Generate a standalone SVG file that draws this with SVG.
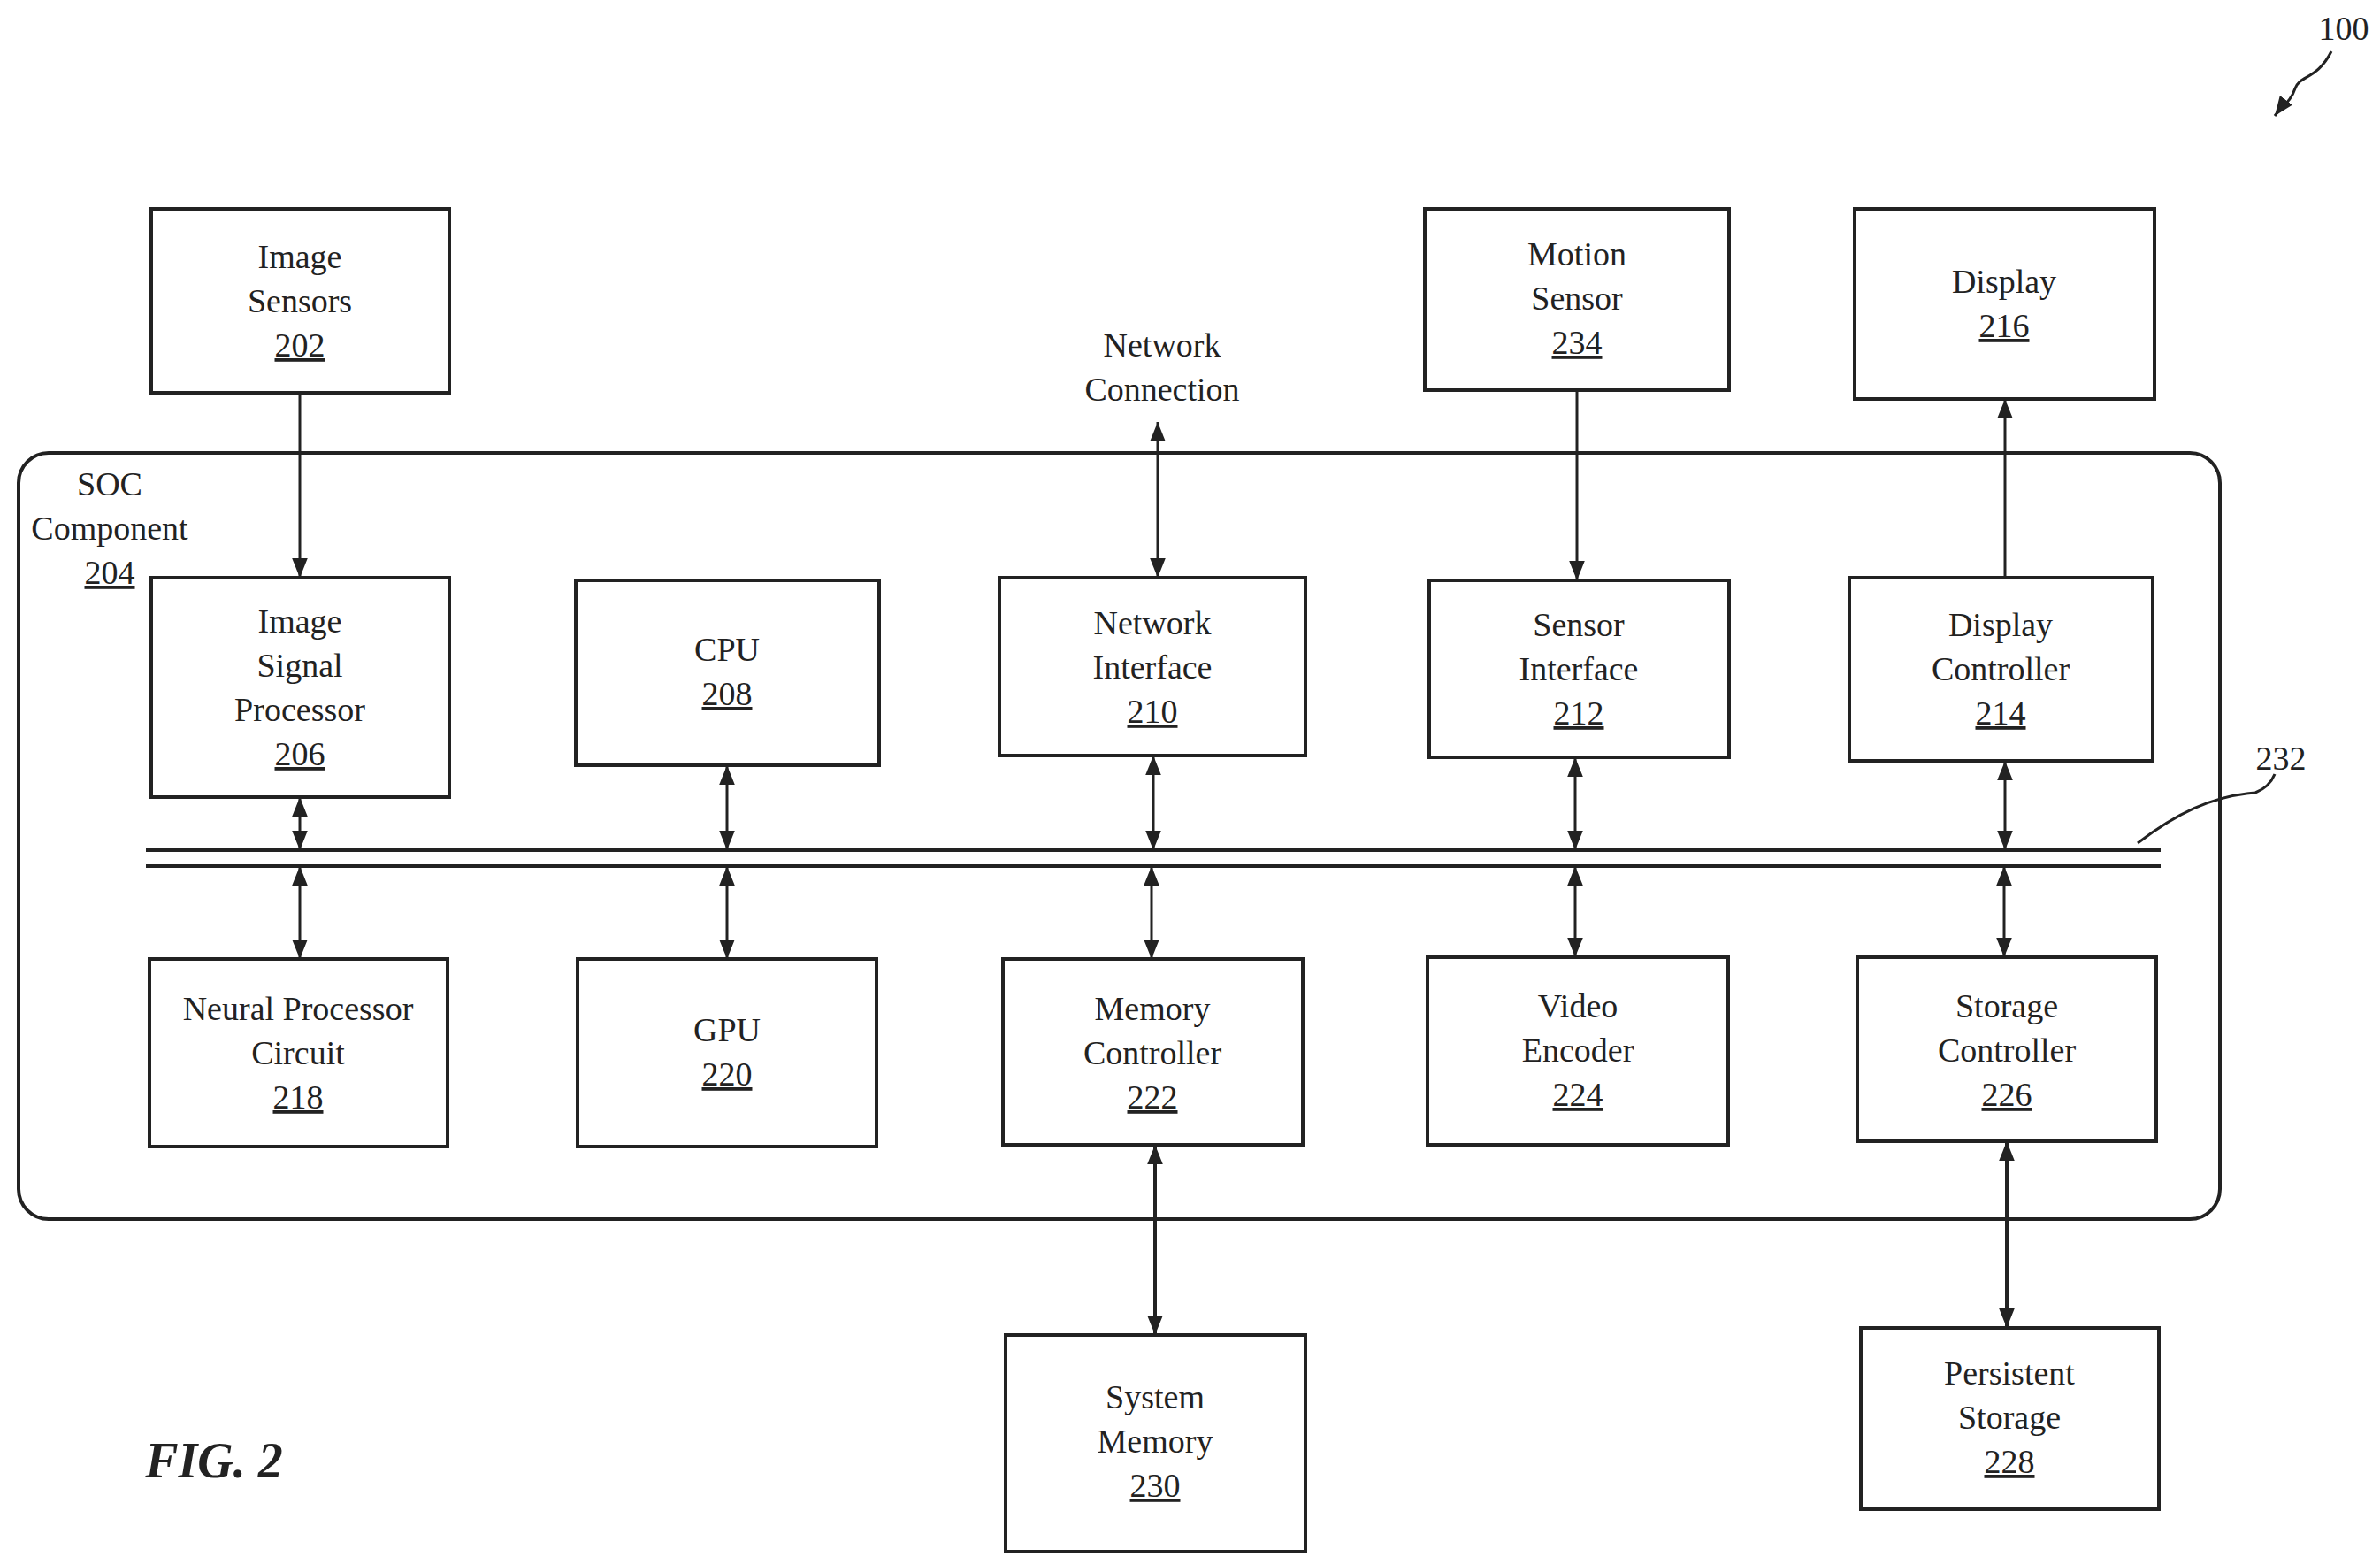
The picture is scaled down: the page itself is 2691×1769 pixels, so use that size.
<svg xmlns="http://www.w3.org/2000/svg" width="2691" height="1769" viewBox="0 0 2691 1769">
<style>
.b{fill:none;stroke:#222;stroke-width:4}
.c{fill:none;stroke:#222;stroke-width:3}
text{font-family:"Liberation Serif",serif;font-size:38px;fill:#222;text-anchor:middle}
.u{text-decoration:underline}
</style>
<defs>
<marker id="m" viewBox="0 0 10 10" refX="10" refY="5" markerWidth="22" markerHeight="22" orient="auto-start-reverse" markerUnits="userSpaceOnUse"><path d="M0,1 L10,5 L0,9 z" fill="#222"/></marker>
</defs>
<rect width="2691" height="1769" fill="#fff"/>
<rect class="b" x="21" y="512" width="2489" height="866" rx="34"/>
<g id="soc"><text x="124" y="560">SOC</text><text x="124" y="610">Component</text><text x="124" y="660" class="u">204</text></g>
<g id="n202"><rect class="b" x="171" y="236" width="337" height="208"/><text x="339" y="303">Image</text><text x="339" y="353">Sensors</text><text x="339" y="403" class="u">202</text></g>
<g id="n206"><rect class="b" x="171" y="653" width="337" height="248"/><text x="339" y="715">Image</text><text x="339" y="765">Signal</text><text x="339" y="815">Processor</text><text x="339" y="865" class="u">206</text></g>
<g id="n208"><rect class="b" x="651" y="656" width="343" height="209"/><text x="822" y="747">CPU</text><text x="822" y="797" class="u">208</text></g>
<g id="n210"><rect class="b" x="1130" y="653" width="346" height="201"/><text x="1303" y="717">Network</text><text x="1303" y="767">Interface</text><text x="1303" y="817" class="u">210</text></g>
<g id="n212"><rect class="b" x="1616" y="656" width="339" height="200"/><text x="1785" y="719">Sensor</text><text x="1785" y="769">Interface</text><text x="1785" y="819" class="u">212</text></g>
<g id="n214"><rect class="b" x="2091" y="653" width="343" height="207"/><text x="2262" y="719">Display</text><text x="2262" y="769">Controller</text><text x="2262" y="819" class="u">214</text></g>
<g id="n234"><rect class="b" x="1611" y="236" width="344" height="205"/><text x="1783" y="300">Motion</text><text x="1783" y="350">Sensor</text><text x="1783" y="400" class="u">234</text></g>
<g id="n216"><rect class="b" x="2097" y="236" width="339" height="215"/><text x="2266" y="331">Display</text><text x="2266" y="381" class="u">216</text></g>
<g id="n218"><rect class="b" x="169" y="1084" width="337" height="212"/><text x="337" y="1153">Neural Processor</text><text x="337" y="1203">Circuit</text><text x="337" y="1253" class="u">218</text></g>
<g id="n220"><rect class="b" x="653" y="1084" width="338" height="212"/><text x="822" y="1177">GPU</text><text x="822" y="1227" class="u">220</text></g>
<g id="n222"><rect class="b" x="1134" y="1084" width="339" height="210"/><text x="1303" y="1153">Memory</text><text x="1303" y="1203">Controller</text><text x="1303" y="1253" class="u">222</text></g>
<g id="n224"><rect class="b" x="1614" y="1082" width="340" height="212"/><text x="1784" y="1150">Video</text><text x="1784" y="1200">Encoder</text><text x="1784" y="1250" class="u">224</text></g>
<g id="n226"><rect class="b" x="2100" y="1082" width="338" height="208"/><text x="2269" y="1150">Storage</text><text x="2269" y="1200">Controller</text><text x="2269" y="1250" class="u">226</text></g>
<g id="n230"><rect class="b" x="1137" y="1509" width="339" height="245"/><text x="1306" y="1592">System</text><text x="1306" y="1642">Memory</text><text x="1306" y="1692" class="u">230</text></g>
<g id="n228"><rect class="b" x="2104" y="1501" width="337" height="205"/><text x="2272" y="1565">Persistent</text><text x="2272" y="1615">Storage</text><text x="2272" y="1665" class="u">228</text></g>
<g id="labels">
<text x="1314" y="403">Network</text><text x="1314" y="453">Connection</text>
<text x="2579" y="870">232</text>
<text x="2650" y="45">100</text>
<text x="242" y="1670" style="font-size:56px;font-style:italic;font-weight:bold">FIG. 2</text>
</g>
<g id="connectors">
<line class="b" x1="165" y1="961" x2="2443" y2="961"/>
<line class="b" x1="165" y1="979" x2="2443" y2="979"/>
<path class="c" d="M2417,953 C2460,920 2500,900 2550,896 C2565,890 2570,880 2572,875"/>
<path class="c" d="M2636,58 C2620,90 2600,85 2595,100 C2590,115 2580,120 2572,131" marker-end="url(#m)"/>
<line class="c" x1="339" y1="444" x2="339" y2="653" marker-end="url(#m)"/>
<line class="c" x1="1309" y1="477" x2="1309" y2="653" marker-start="url(#m)" marker-end="url(#m)"/>
<line class="c" x1="1783" y1="441" x2="1783" y2="656" marker-end="url(#m)"/>
<line class="c" x1="2267" y1="653" x2="2267" y2="451" marker-end="url(#m)"/>
<line class="c" x1="339" y1="901" x2="339" y2="961" marker-start="url(#m)" marker-end="url(#m)"/>
<line class="c" x1="822" y1="865" x2="822" y2="961" marker-start="url(#m)" marker-end="url(#m)"/>
<line class="c" x1="1304" y1="854" x2="1304" y2="961" marker-start="url(#m)" marker-end="url(#m)"/>
<line class="c" x1="1781" y1="856" x2="1781" y2="961" marker-start="url(#m)" marker-end="url(#m)"/>
<line class="c" x1="2267" y1="860" x2="2267" y2="961" marker-start="url(#m)" marker-end="url(#m)"/>
<line class="c" x1="339" y1="979" x2="339" y2="1084" marker-start="url(#m)" marker-end="url(#m)"/>
<line class="c" x1="822" y1="979" x2="822" y2="1084" marker-start="url(#m)" marker-end="url(#m)"/>
<line class="c" x1="1302" y1="979" x2="1302" y2="1084" marker-start="url(#m)" marker-end="url(#m)"/>
<line class="c" x1="1781" y1="979" x2="1781" y2="1082" marker-start="url(#m)" marker-end="url(#m)"/>
<line class="c" x1="2266" y1="979" x2="2266" y2="1082" marker-start="url(#m)" marker-end="url(#m)"/>
<line class="b" x1="1306" y1="1294" x2="1306" y2="1509" marker-start="url(#m)" marker-end="url(#m)"/>
<line class="b" x1="2269" y1="1290" x2="2269" y2="1501" marker-start="url(#m)" marker-end="url(#m)"/>
</g>
</svg>
